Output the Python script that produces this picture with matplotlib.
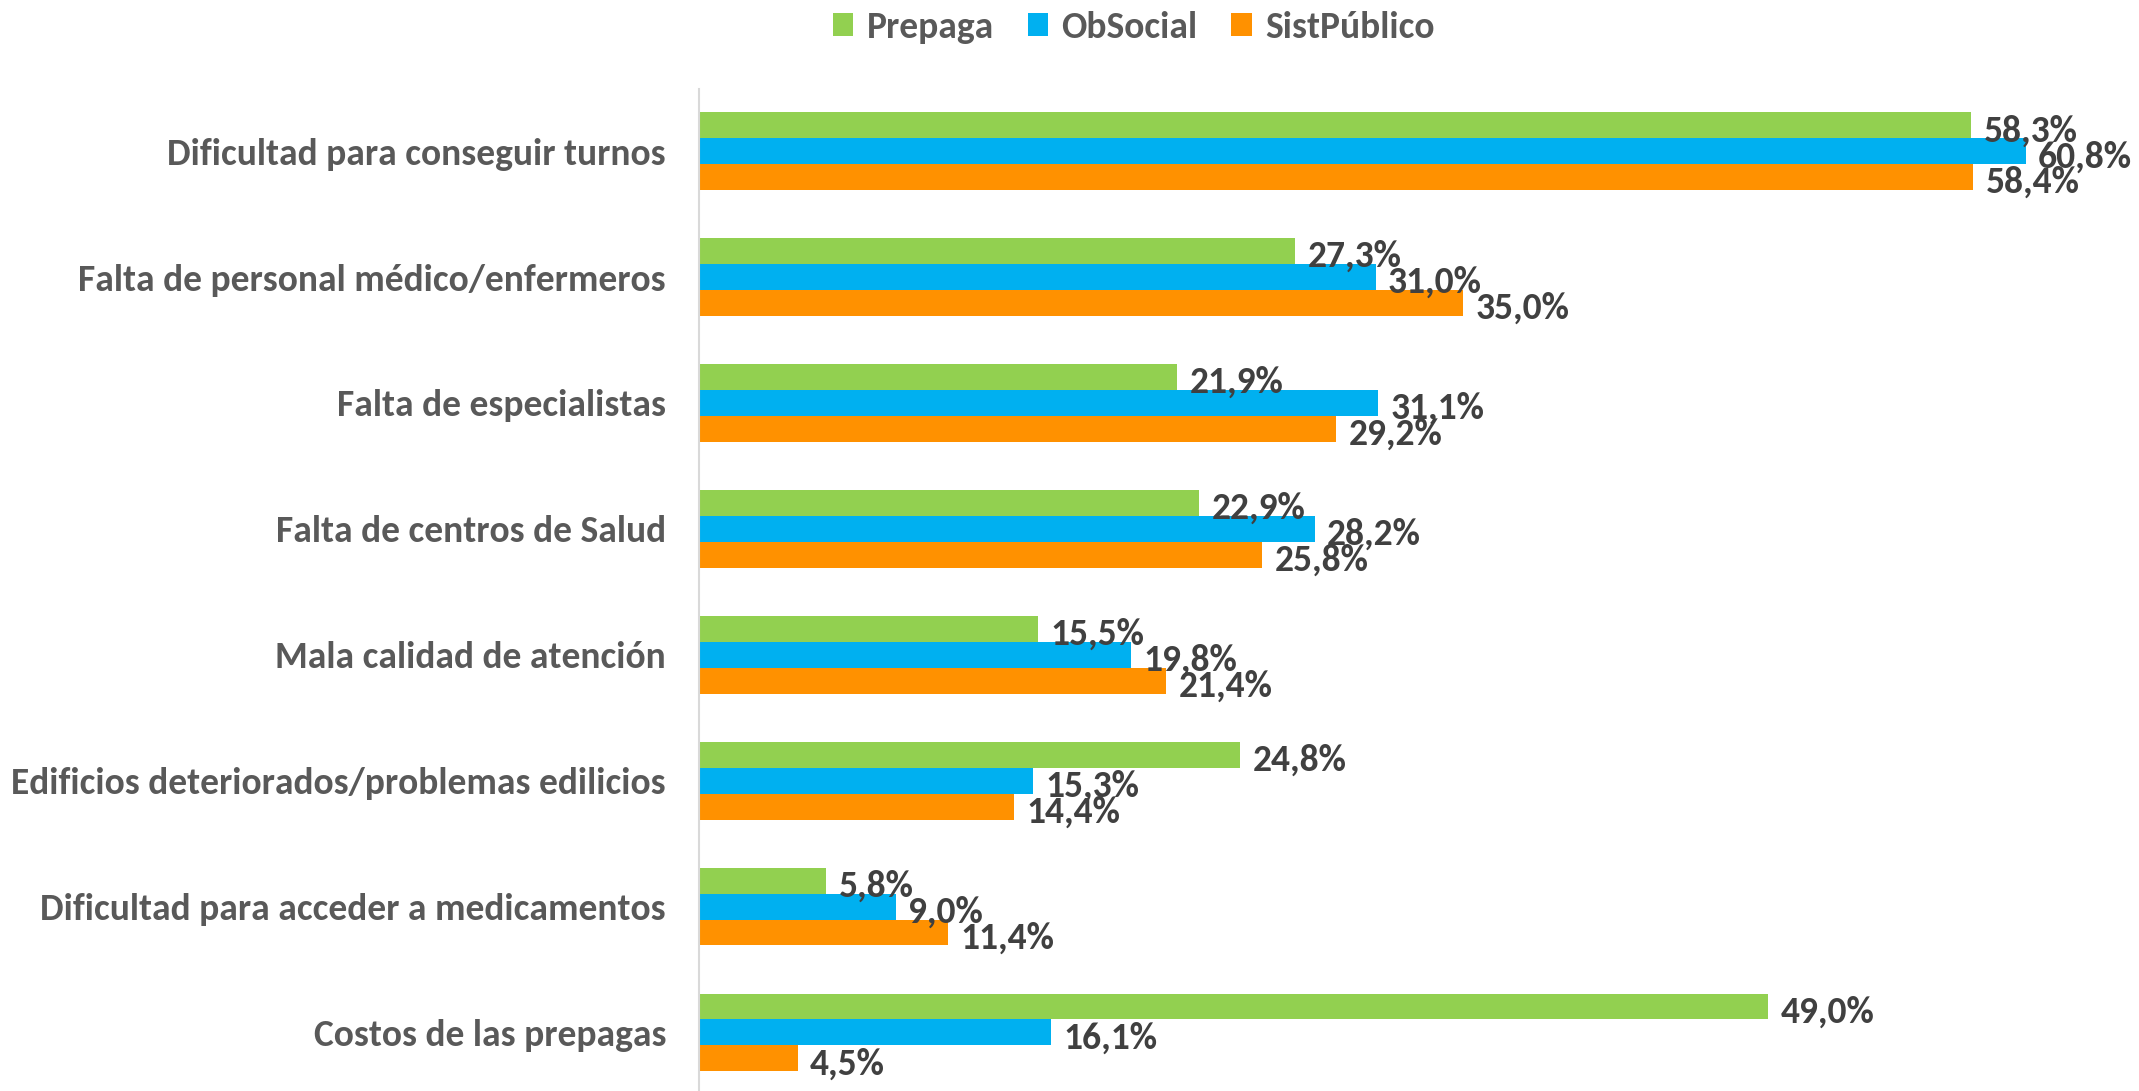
import matplotlib
matplotlib.use("Agg")
import matplotlib.pyplot as plt
from matplotlib import font_manager as fm
import numpy as np

categories = [
    "Dificultad para conseguir turnos",
    "Falta de personal médico/enfermeros",
    "Falta de especialistas",
    "Falta de centros de Salud",
    "Mala calidad de atención",
    "Edificios deteriorados/problemas edilicios",
    "Dificultad para acceder a medicamentos",
    "Costos de las prepagas",
]
series_names = ["Prepaga", "ObSocial", "SistPúblico"]
prepaga = [58.3, 27.3, 21.9, 22.9, 15.5, 24.8, 5.8, 49.0]
obsocial = [60.8, 31.0, 31.1, 28.2, 19.8, 15.3, 9.0, 16.1]
sistpublico = [58.4, 35.0, 29.2, 25.8, 21.4, 14.4, 11.4, 4.5]
colors = ["#92D050", "#00B0F0", "#FF9100"]

installed = {f.name for f in fm.fontManager.ttflist}
family = "DejaVu Sans"
for cand in ["Carlito", "Liberation Sans Narrow", "DejaVu Sans Condensed", "Open Sans", "Noto Sans"]:
    if cand in installed:
        family = cand
        break
plt.rcParams["font.family"] = [family, "DejaVu Sans"]

fig = plt.figure(figsize=(21.39, 10.91), dpi=100)
ax = fig.add_axes([0.327, 0.0, 0.673, 0.918])

n = len(categories)
y = np.arange(n)
h = 0.206
data = [prepaga, obsocial, sistpublico]
fs = 27
for i, (vals, col, name) in enumerate(zip(data, colors, series_names)):
    pos = y + (i - 1) * h
    ax.barh(pos, vals, height=h, color=col, label=name, edgecolor="none")
    for p, v in zip(pos, vals):
        ax.annotate(f"{v:.1f}%".replace(".", ","), xy=(v, p), xytext=(9, -4),
                    textcoords="offset points", va="center", ha="left",
                    fontsize=fs, fontweight="bold", color="#404040")

ax.set_ylim(7.465, -0.49)
ax.set_xlim(0, 66)
ax.set_yticks(y)
ax.set_yticklabels(categories, fontsize=fs, fontweight="bold", color="#595959")
ax.tick_params(axis="y", length=0, pad=24)
ax.set_xticks([])
for s in ["top", "right", "bottom"]:
    ax.spines[s].set_visible(False)
ax.spines["left"].set_color("#D9D9D9")
ax.spines["left"].set_linewidth(1.5)

leg = fig.legend(loc="center", bbox_to_anchor=(0.53, 0.975), ncol=3, frameon=False,
                 prop={"size": fs, "weight": "bold"}, handlelength=0.55, handleheight=0.55,
                 handletextpad=0.35, columnspacing=0.9)
for t in leg.get_texts():
    t.set_color("#595959")

fig.savefig("out.png", dpi=100)
